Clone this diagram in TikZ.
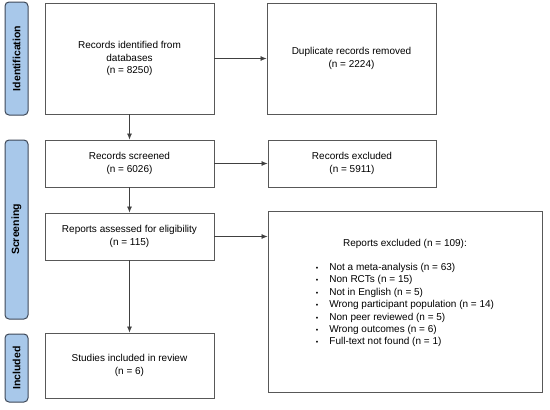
\documentclass[tikz,border=0pt]{standalone}
\usepackage{fontspec}
\setmainfont{Liberation Sans}
\usepackage{tikz}
\usetikzlibrary{arrows.meta,positioning}
\definecolor{fasefondo}{RGB}{168,200,234}
\definecolor{faseborde}{RGB}{62,72,88}
\definecolor{cajaborde}{RGB}{88,88,88}

\begin{document}
\begin{tikzpicture}[
  x=1pt, y=-1pt,
  caja/.style = {
    rectangle, draw=cajaborde, line width=0.9pt, fill=white,
    align=center, inner sep=0pt,
    font=\fontsize{10}{12.2}\selectfont
  },
  fase/.style = {
    rectangle, draw=faseborde, fill=fasefondo, line width=1pt,
    rounded corners=4pt, minimum height=23pt, inner sep=0pt,
    rotate=90, font=\fontsize{10.5}{12}\selectfont\bfseries
  },
  flecha/.style = {-{Latex[length=6pt,width=5pt]}, line width=0.7pt, draw=black!75, fill=black!80}
]
\useasboundingbox (0,0) rectangle (550,410);

% Fases (columna izquierda)
\node[fase, minimum width=113pt] (fident)  at (16.5,58.5)  {Identification};
\node[fase, minimum width=179pt] (fscreen) at (16.5,229.5) {Screening};
\node[fase, minimum width=68pt]  (fincl)   at (16.5,368)   {Included};

% Columna principal
\node[caja, minimum width=169pt, minimum height=111pt] (ident)  at (129.5,58.5)
  {Records identified from\\databases\\(n = 8250)};
\node[caja, minimum width=169pt, minimum height=47pt]  (screen) at (129.5,163.5)
  {Records screened\\(n = 6026)};
\node[caja, minimum width=169pt, minimum height=47pt]  (assess) at (129.5,236.5)
  {Reports assessed for eligibility\\(n = 115)};
\node[caja, minimum width=169pt, minimum height=65pt]  (incl)   at (129.5,365.5)
  {Studies included in review\\(n = 6)};

% Columna de exclusiones
\node[caja, minimum width=169pt, minimum height=111pt] (dupl)   at (351.5,58.5)
  {Duplicate records removed\\(n = 2224)};
\node[caja, minimum width=168pt, minimum height=47pt]  (rexcl)  at (352,163.5)
  {Records excluded\\(n = 5911)};
\node[caja, minimum width=274pt, minimum height=181pt] (repexcl) at (405,301.5)
  {Reports excluded (n = 109):\\[12pt]
   \renewcommand{\arraystretch}{1.02}%
   \begin{tabular}{@{}c@{\hspace{11pt}}l@{}}
   {\scriptsize\textbullet} & Not a meta-analysis (n = 63)\\
   {\scriptsize\textbullet} & Non RCTs (n = 15)\\
   {\scriptsize\textbullet} & Not in English (n = 5)\\
   {\scriptsize\textbullet} & Wrong participant population (n = 14)\\
   {\scriptsize\textbullet} & Non peer reviewed (n = 5)\\
   {\scriptsize\textbullet} & Wrong outcomes (n = 6)\\
   {\scriptsize\textbullet} & Full-text not found (n = 1)\\
   \end{tabular}\\[14pt]};

% Flechas verticales
\draw[flecha] (ident)  -- (screen);
\draw[flecha] (screen) -- (assess);
\draw[flecha] (assess) -- (incl);

% Flechas horizontales
\draw[flecha] (ident)  -- (dupl);
\draw[flecha] (screen) -- (rexcl);
\draw[flecha] (assess.east) -- (assess.east -| repexcl.west);

\end{tikzpicture}
\end{document}
